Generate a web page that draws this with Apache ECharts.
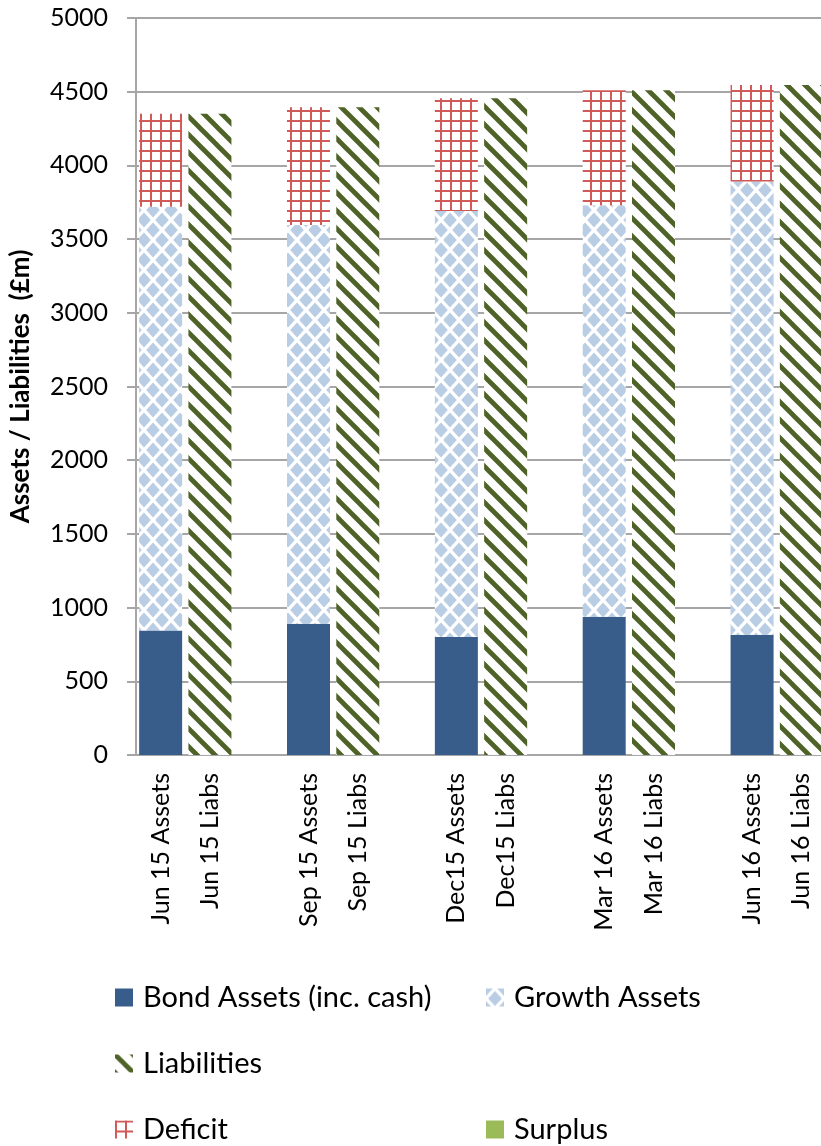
<!DOCTYPE html>
<html>
<head>
<meta charset="utf-8">
<script src="https://cdn.jsdelivr.net/npm/echarts@6/dist/echarts.min.js"></script>
<style>
  html, body { margin: 0; padding: 0; background: #fff; }
  #chart { width: 821px; height: 1146px; }
</style>
</head>
<body>
<div id="chart"></div>
<script>
// Category labels along the x axis (blank slots separate the quarters)
const categories = [
  'Jun 15 Assets', 'Jun 15 Liabs', ' ',
  'Sep 15 Assets', 'Sep 15 Liabs', '  ',
  'Dec15 Assets', 'Dec15 Liabs', '   ',
  'Mar 16 Assets', 'Mar 16 Liabs', '    ',
  'Jun 16 Assets', 'Jun 16 Liabs'
];

// Values per quarter (£m)
const bondAssets   = [845, 890, 800, 938, 815];
const growthAssets = [2875, 2705, 2890, 2792, 3075];
const deficit      = [630, 800, 765, 780, 655];
const liabilities  = [4350, 4395, 4455, 4510, 4545];
const surplus      = [0, 0, 0, 0, 0];

// y-axis ticks
const yMin = 0, yMax = 5000, yStep = 500;

// Spread quarter values onto the "Assets" / "Liabs" slots
function onAssets(vals) {
  const out = categories.map(() => null);
  vals.forEach((v, i) => { out[i * 3] = v; });
  return out;
}
function onLiabs(vals) {
  const out = categories.map(() => null);
  vals.forEach((v, i) => { out[i * 3 + 1] = v; });
  return out;
}

// Hatch fills
function tile(w, h, draw) {
  const c = document.createElement('canvas');
  c.width = w; c.height = h;
  const ctx = c.getContext('2d');
  ctx.fillStyle = '#ffffff';
  ctx.fillRect(0, 0, w, h);
  draw(ctx, w, h);
  return { image: c, repeat: 'repeat' };
}

// staggered light-blue diamonds
const diamondFill = tile(18, 20, (ctx, w, h) => {
  ctx.fillStyle = '#B9CDE5';
  const rx = 6.8, ry = 7.4;
  [[0, 0], [w, 0], [0, h], [w, h], [w / 2, h / 2]].forEach(([cx, cy]) => {
    ctx.beginPath();
    ctx.moveTo(cx, cy - ry);
    ctx.lineTo(cx + rx, cy);
    ctx.lineTo(cx, cy + ry);
    ctx.lineTo(cx - rx, cy);
    ctx.closePath();
    ctx.fill();
  });
});

// dark green downward diagonal stripes
const stripeFill = tile(18, 18, (ctx, w) => {
  ctx.strokeStyle = '#4F6228';
  ctx.lineWidth = 4.8;
  [-w, 0, w].forEach((x0) => {
    ctx.beginPath();
    ctx.moveTo(x0 - 2, -2);
    ctx.lineTo(x0 + w + 2, w + 2);
    ctx.stroke();
  });
});

// red square grid
const gridFill = tile(10, 10, (ctx) => {
  ctx.fillStyle = '#D05A58';
  ctx.fillRect(0, 0, 2, 10);
  ctx.fillRect(0, 0, 10, 2);
});

const FONT = 'Lato, "Open Sans", sans-serif';
const BAR_W = 43;

const chart = echarts.init(document.getElementById('chart'), null, { renderer: 'canvas' });

function legendAt(name, left, centerY) {
  return {
    data: [name],
    left: left,
    top: centerY - 15,
    orient: 'horizontal',
    padding: 0,
    itemWidth: 18,
    itemHeight: 18,
    itemGap: 0,
    icon: 'rect',
    selectedMode: false,
    textStyle: { fontFamily: FONT, fontSize: 29, color: '#000', padding: [0, 0, 0, 5] }
  };
}

chart.setOption({
  animation: false,
  backgroundColor: '#ffffff',
  grid: {
    left: 136, top: 18, right: -5, bottom: 391,
    containLabel: false,
    outerBoundsMode: 'none'
  },
  legend: [
    legendAt('Bond Assets (inc. cash)', 115, 998),
    legendAt('Growth Assets', 486, 998),
    legendAt('Liabilities', 115, 1064),
    legendAt('Deficit', 115, 1130),
    legendAt('Surplus', 486, 1130)
  ],
  xAxis: {
    type: 'category',
    data: categories,
    axisLine: { show: true, lineStyle: { color: '#A6A6A6', width: 2 } },
    axisTick: { show: false },
    axisLabel: {
      interval: 0,
      rotate: 90,
      margin: 18,
      fontFamily: FONT,
      fontSize: 25,
      color: '#000'
    },
    splitLine: { show: false }
  },
  yAxis: {
    type: 'value',
    min: yMin, max: yMax, interval: yStep,
    name: 'Assets / Liabilities  (£m)',
    nameLocation: 'middle',
    nameRotate: 90,
    nameGap: 102,
    nameTextStyle: { fontFamily: FONT, fontSize: 26, fontWeight: 'bold', color: '#000' },
    axisLine: { show: true, lineStyle: { color: '#A6A6A6', width: 2 } },
    axisTick: { show: true, length: 9, lineStyle: { color: '#A6A6A6', width: 2 } },
    axisLabel: {
      margin: 28, fontFamily: FONT, fontSize: 25, color: '#000',
      formatter: (v) => String(v)
    },
    splitLine: { show: true, lineStyle: { color: '#A6A6A6', width: 2 } }
  },
  series: [
    {
      name: 'Bond Assets (inc. cash)', type: 'bar', stack: 'total', barWidth: BAR_W,
      itemStyle: { color: '#385D8A' }, data: onAssets(bondAssets)
    },
    {
      name: 'Growth Assets', type: 'bar', stack: 'total', barWidth: BAR_W,
      itemStyle: { color: diamondFill }, data: onAssets(growthAssets)
    },
    {
      name: 'Liabilities', type: 'bar', stack: 'total', barWidth: BAR_W,
      itemStyle: { color: stripeFill }, data: onLiabs(liabilities)
    },
    {
      name: 'Deficit', type: 'bar', stack: 'total', barWidth: BAR_W,
      itemStyle: { color: gridFill }, data: onAssets(deficit)
    },
    {
      name: 'Surplus', type: 'bar', stack: 'total', barWidth: BAR_W,
      itemStyle: { color: '#9BBB59' }, data: onAssets(surplus)
    }
  ]
});
</script>
</body>
</html>
